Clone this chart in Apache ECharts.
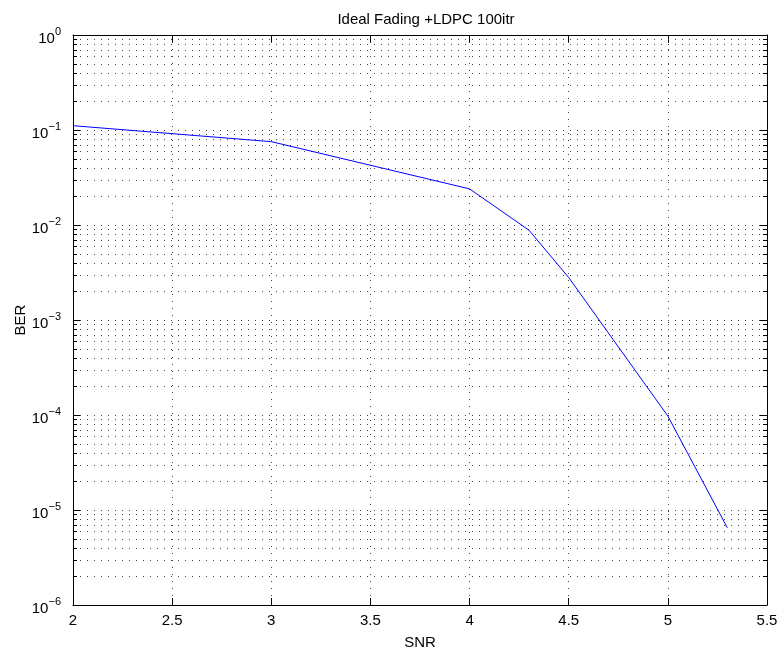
<!DOCTYPE html>
<html>
<head>
<meta charset="utf-8">
<script src="https://cdn.jsdelivr.net/npm/echarts@6/dist/echarts.min.js"></script>
<style>html,body{margin:0;padding:0;background:#fff;}#c{width:782px;height:655px;}</style>
</head>
<body>
<div id="c"></div>
<script>
const snr = [2, 3, 4, 4.3, 4.5, 5, 5.3];
const ber = [0.111, 0.0754, 0.024, 0.0088, 0.0028, 0.0000975, 0.0000065];
const titleText = 'Ideal Fading +LDPC 100itr';
const xName = 'SNR';
const yName = 'BER';
const xMin = 2, xMax = 5.5, xStep = 0.5;
const yMinExp = -6, yMaxExp = 0;

const FONT = 'Liberation Sans, Arial, Helvetica, sans-serif';
const FS = 15;
const gridDot = { color: '#444', width: 1, type: [1, 6] };

// minor grid values (2..9 x 10^e)
const minorVals = [];
for (let e = yMinExp; e < yMaxExp; e++) {
  for (let m = 2; m <= 9; m++) minorVals.push(m * Math.pow(10, e));
}

function expLabel(v) {
  const e = Math.round(Math.log10(v));
  const s = e < 0 ? '\u2212' + Math.abs(e) : String(e);
  return '{b|10}{s|' + s + '}';
}

function renderMinor(params, api) {
  const v = api.value(0);
  const p1 = api.coord([xMin, v]);
  const p2 = api.coord([xMax, v]);
  const y = Math.round(p1[1]) + 0.5;
  return {
    type: 'group',
    children: [
      { type: 'line', shape: { x1: p1[0], y1: y, x2: p2[0], y2: y },
        style: { stroke: gridDot.color, lineWidth: 1, lineDash: [1, 6] }, silent: true },
      { type: 'line', shape: { x1: p1[0], y1: y, x2: p1[0] + 4, y2: y },
        style: { stroke: '#000', lineWidth: 1 }, silent: true },
      { type: 'line', shape: { x1: p2[0] - 4, y1: y, x2: p2[0], y2: y },
        style: { stroke: '#000', lineWidth: 1 }, silent: true }
    ]
  };
}

const chart = echarts.init(document.getElementById('c'), null, { renderer: 'canvas' });
chart.setOption({
  animation: false,
  backgroundColor: '#fff',
  textStyle: { fontFamily: FONT },
  title: {
    text: titleText,
    left: 421, top: 7,
    textAlign: 'center',
    textStyle: { fontSize: FS, fontWeight: 'normal', color: '#000', fontFamily: FONT }
  },
  grid: { left: 73, right: 15, top: 35, bottom: 48 },
  xAxis: [{
    type: 'value', min: xMin, max: xMax, interval: xStep,
    name: xName, nameLocation: 'middle', nameGap: 30, nameMoveOverlap: false,
    nameTextStyle: { fontSize: FS, color: '#000', fontFamily: FONT },
    axisLine: { show: true, onZero: false, lineStyle: { color: '#000', width: 1 } },
    axisTick: { show: true, inside: true, length: 7, lineStyle: { color: '#000' } },
    axisLabel: { fontSize: FS, color: '#000', margin: 8, fontFamily: FONT },
    splitLine: { show: true, lineStyle: gridDot }
  }, {
    type: 'value', min: xMin, max: xMax, interval: xStep, position: 'top',
    axisLine: { show: true, onZero: false, lineStyle: { color: '#000', width: 1 } },
    axisTick: { show: true, inside: true, length: 7, lineStyle: { color: '#000' } },
    axisLabel: { show: false }, splitLine: { show: false }
  }],
  yAxis: [{
    type: 'log', logBase: 10, min: Math.pow(10, yMinExp), max: Math.pow(10, yMaxExp),
    name: yName, nameLocation: 'middle', nameGap: 45, nameRotate: 90, nameMoveOverlap: false,
    nameTextStyle: { fontSize: FS, color: '#000', fontFamily: FONT },
    axisLine: { show: true, lineStyle: { color: '#000', width: 1 } },
    axisTick: { show: true, inside: true, length: 7, lineStyle: { color: '#000' } },
    axisLabel: {
      color: '#000', margin: 12, formatter: expLabel,
      rich: {
        b: { fontSize: FS, color: '#000', fontFamily: FONT, padding: [7, 0, 0, 0] },
        s: { fontSize: 11, color: '#000', fontFamily: FONT, padding: [0, 0, 7, 0] }
      }
    },
    splitLine: { show: true, lineStyle: gridDot }
  }, {
    type: 'log', logBase: 10, min: Math.pow(10, yMinExp), max: Math.pow(10, yMaxExp),
    position: 'right',
    axisLine: { show: true, lineStyle: { color: '#000', width: 1 } },
    axisTick: { show: true, inside: true, length: 7, lineStyle: { color: '#000' } },
    axisLabel: { show: false }, splitLine: { show: false }
  }],
  series: [{
    type: 'custom',
    silent: true,
    clip: true,
    renderItem: renderMinor,
    data: minorVals.map(v => [v]),
    encode: { y: 0 },
    z: 1
  }, {
    type: 'line',
    data: snr.map((x, i) => [x, ber[i]]),
    showSymbol: false, symbol: 'none',
    lineStyle: { color: '#0000ff', width: 1 },
    z: 5
  }]
});
</script>
</body>
</html>
